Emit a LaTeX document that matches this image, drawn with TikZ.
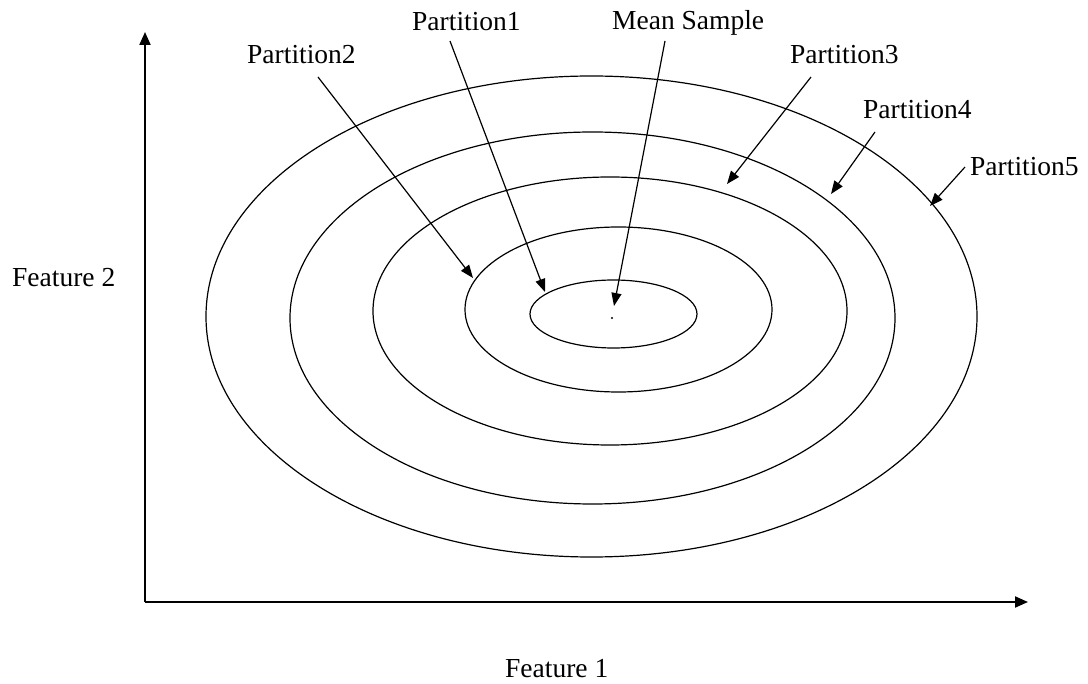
\documentclass[tikz,border=0pt]{standalone}
\usepackage{fontspec}
\setmainfont{Liberation Serif}
\usetikzlibrary{arrows.meta}
\begin{document}
\begin{tikzpicture}[x=1pt,y=-1pt,
  lbl/.style={anchor=base west,inner sep=0pt,font=\fontsize{27.5}{30}\selectfont},
  ring/.style={line width=1.2pt},
  axis/.style={line width=2pt,-{Triangle[length=13pt,width=11pt]}},
  pointer/.style={line width=1.2pt,-{Triangle[length=13pt,width=10pt]}}]
\useasboundingbox (0,0) rectangle (1088,684);
% axes
\coordinate (O) at (145,602);
\coordinate (ytip) at (145,32);
\coordinate (xtip) at (1028,602);
\draw[axis] (O) -- (ytip);
\draw[axis] (O) -- (xtip);
\node[lbl] (f2) at (12,287) {Feature 2};
\node[lbl] (f1) at (505,677) {Feature 1};
% ellipses
\draw[ring] (613.5,314) ellipse [x radius=83.5pt, y radius=34pt];
\draw[ring] (618.5,309.5) ellipse [x radius=153.5pt, y radius=82.5pt];
\draw[ring] (610,311) ellipse [x radius=237pt, y radius=134pt];
\draw[ring] (592.5,318) ellipse [x radius=302.5pt, y radius=186pt];
\draw[ring] (591.5,316.5) ellipse [x radius=385.5pt, y radius=240.5pt];
\fill (612,318) circle [radius=1.2pt];
% labels
\node[lbl] (p1) at (412,31) {Partition1};
\node[lbl] (ms) at (612,30) {Mean Sample};
\node[lbl] (p2) at (247,64) {Partition2};
\node[lbl] (p3) at (790,64) {Partition3};
\node[lbl] (p4) at (863,119) {Partition4};
\node[lbl] (p5) at (970,176) {Partition5};
% arrow ends
\coordinate (p1s) at (450,41);  \coordinate (p1e) at (545,292);
\coordinate (mss) at (665,41);  \coordinate (mse) at (614,306);
\coordinate (p2s) at (318,77);  \coordinate (p2e) at (473,278);
\coordinate (p3s) at (811,77);  \coordinate (p3e) at (727,184);
\coordinate (p4s) at (875,132); \coordinate (p4e) at (831,194);
\coordinate (p5s) at (965,167); \coordinate (p5e) at (930,206);
\draw[pointer] (p1s) -- (p1e);
\draw[pointer] (mss) -- (mse);
\draw[pointer] (p2s) -- (p2e);
\draw[pointer] (p3s) -- (p3e);
\draw[pointer] (p4s) -- (p4e);
\draw[pointer] (p5s) -- (p5e);
\end{tikzpicture}
\end{document}
